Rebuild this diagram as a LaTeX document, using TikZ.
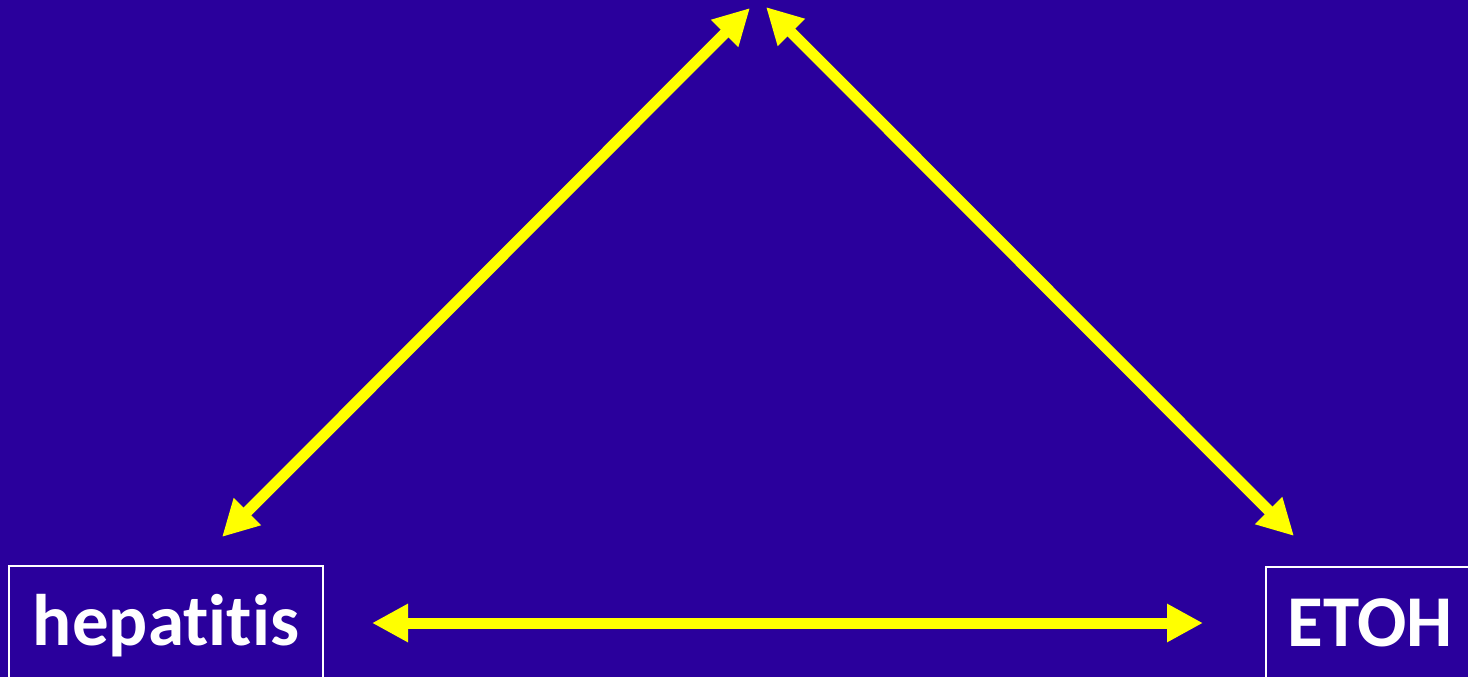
\documentclass[tikz,border=0pt]{standalone}
\usepackage{fontspec}
\setmainfont{Carlito}[Ligatures=NoCommon]
\usetikzlibrary{arrows.meta}
\definecolor{bgblue}{RGB}{42,0,156}
\definecolor{arrowyellow}{RGB}{255,255,0}
\tikzset{
  biarrow/.style={draw=arrowyellow, line width=11pt,
    {Triangle[length=36pt,width=36pt]}-{Triangle[length=36pt,width=36pt]}},
  termbox/.style={draw=white, line width=1.5pt, text=white, inner sep=0pt,
    font=\fontsize{73}{80}\selectfont\bfseries, text height=79pt, text depth=50pt}
}
\begin{document}
\begin{tikzpicture}[x=1pt, y=-1pt]
  \fill[bgblue] (0,0) rectangle (1468,677);
  \useasboundingbox (0,0) rectangle (1468,677);
  \node[termbox, anchor=base, minimum width=314pt] (hep) at (166,645) {hepatitis};
  \node[termbox, anchor=base, minimum width=208pt] (etoh) at (1370,646) {ETOH};
  % arrow tips
  \coordinate (apexL) at (750,8);
  \coordinate (apexR) at (766,7);
  \coordinate (hepUp) at (222,537);
  \coordinate (etohUp) at (1294,536);
  \coordinate (hepSide) at (372,623);
  \coordinate (etohSide) at (1203,623);
  \foreach \a/\b in {hepUp/apexL, etohUp/apexR, hepSide/etohSide} {
    \draw[biarrow] (\a) -- (\b);
  }
\end{tikzpicture}
\end{document}
